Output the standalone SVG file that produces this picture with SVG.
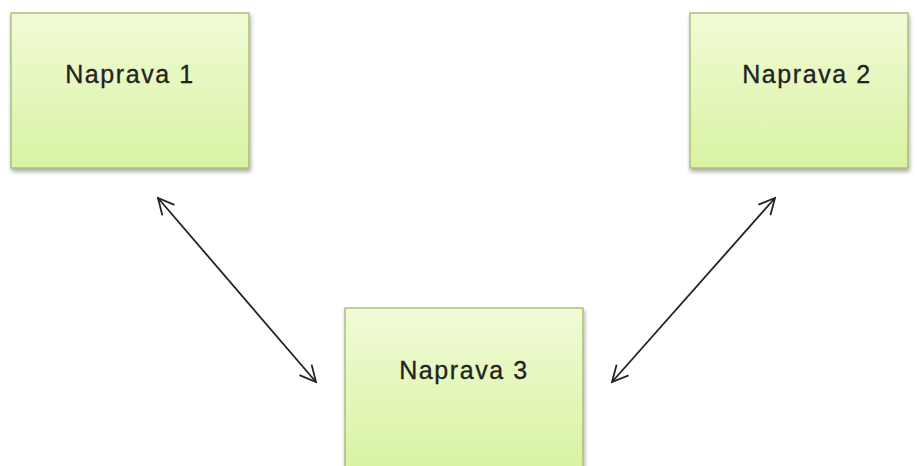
<svg xmlns="http://www.w3.org/2000/svg" width="917" height="466" viewBox="0 0 917 466">
<defs>
<linearGradient id="g" x1="0" y1="0" x2="0" y2="1">
<stop offset="0" stop-color="#f1fbd6"/>
<stop offset="1" stop-color="#d8f3a2"/>
</linearGradient>
<filter id="sh" x="-10%" y="-10%" width="120%" height="120%">
<feGaussianBlur in="SourceAlpha" stdDeviation="2"/>
<feOffset dx="1" dy="3" result="b"/>
<feComponentTransfer><feFuncA type="linear" slope="0.35"/></feComponentTransfer>
<feMerge><feMergeNode/><feMergeNode in="SourceGraphic"/></feMerge>
</filter>
<marker id="ah" viewBox="0 0 22 22" refX="20" refY="11" markerWidth="22" markerHeight="22" markerUnits="userSpaceOnUse" orient="auto-start-reverse">
<path d="M4,3 L20,11 L4,19" fill="none" stroke="#222" stroke-width="1.8"/>
</marker>
<style>
.box{fill:url(#g);stroke:#a3b86c;stroke-width:1.3;filter:url(#sh)}
.lbl{font-family:"Liberation Sans",Arial,sans-serif;font-size:25px;letter-spacing:1.6px;fill:#222;stroke:#222;stroke-width:0.3;text-anchor:middle}
.con{stroke:#222;stroke-width:1.8;fill:none;marker-start:url(#ah);marker-end:url(#ah)}
</style>
</defs>
<rect width="917" height="466" fill="#fff"/>
<g id="node1"><rect class="box" x="11" y="13" width="238" height="155"/><text class="lbl" x="130" y="83">Naprava 1</text></g>
<g id="node2"><rect class="box" x="690" y="13" width="218" height="155"/><text class="lbl" x="807" y="83">Naprava 2</text></g>
<g id="node3"><rect class="box" x="345" y="308" width="238" height="160"/><text class="lbl" x="464" y="379">Naprava 3</text></g>
<g id="connectors">
<line class="con" x1="158" y1="198" x2="316" y2="382"/>
<line class="con" x1="775" y1="198" x2="612" y2="382"/>
</g>
</svg>
